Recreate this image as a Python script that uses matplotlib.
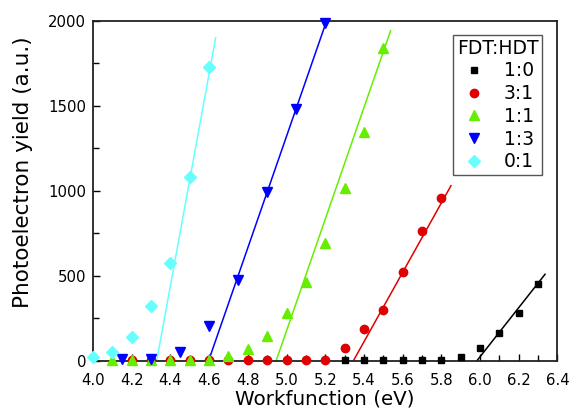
import numpy as np
import matplotlib.pyplot as plt
from matplotlib.ticker import MultipleLocator

# measured yield for each FDT:HDT ratio
x_10 = [5.3, 5.4, 5.5, 5.6, 5.7, 5.8, 5.9, 6.0, 6.1, 6.2, 6.3]
y_10 = [5, 5, 5, 5, 5, 5, 22, 75, 163, 280, 451]

x_31 = [4.2, 4.3, 4.4, 4.5, 4.6, 4.7, 4.8, 4.9, 5.0, 5.1, 5.2, 5.3, 5.4, 5.5, 5.6, 5.7, 5.8]
y_31 = [8, 8, 8, 8, 8, 8, 8, 8, 8, 8, 8, 78, 188, 300, 525, 765, 960]

x_11 = [4.1, 4.2, 4.3, 4.4, 4.5, 4.6, 4.7, 4.8, 4.9, 5.0, 5.1, 5.2, 5.3, 5.4, 5.5]
y_11 = [8, 8, 8, 8, 8, 8, 31, 71, 149, 280, 463, 692, 1019, 1345, 1843]

x_13 = [4.15, 4.3, 4.45, 4.6, 4.75, 4.9, 5.05, 5.2]
y_13 = [10, 10, 55, 206, 476, 996, 1482, 1986]

x_01 = [4.0, 4.1, 4.2, 4.3, 4.4, 4.5, 4.6]
y_01 = [25, 55, 139, 325, 575, 1084, 1731]

labels = ["1:0", "3:1", "1:1", "1:3", "0:1"]
# linear fits: threshold (eV), slope (a.u./eV), end of drawn line (eV)
thresholds = [5.983, 5.345, 4.946, 4.597, 4.329]
slopes = [1445, 2042, 3282, 3279, 6236]
fit_ends = [6.336, 5.85, 5.538, 5.21, 4.634]

colors = ["black", "#e00000", "#66ee00", "#0000ff", "#66ffff"]
markers = ["s", "o", "^", "v", "D"]
msizes = [5, 6, 7, 7, 6]

fig = plt.figure(figsize=(5.73, 4.11), dpi=100)
ax = fig.add_axes([0.1623, 0.1217, 0.8105, 0.8272])

xs = [x_10, x_31, x_11, x_13, x_01]
ys = [y_10, y_31, y_11, y_13, y_01]

for i in range(5):
    x0, k, x1 = thresholds[i], slopes[i], fit_ends[i]
    xl = np.array([x0, x1])
    ax.plot(xl, k * (xl - x0), color=colors[i], lw=1.1, zorder=2)

for i in range(5):
    ax.plot(xs[i], ys[i], linestyle="none", marker=markers[i], ms=msizes[i],
            color=colors[i], mec=colors[i], label=labels[i], zorder=3 + i,
            clip_on=False)

ax.set_xlim(4.0, 6.4)
ax.set_ylim(0, 2000)
ax.xaxis.set_major_locator(MultipleLocator(0.2))
ax.xaxis.set_minor_locator(MultipleLocator(0.1))
ax.yaxis.set_major_locator(MultipleLocator(500))
ax.yaxis.set_minor_locator(MultipleLocator(250))
ax.tick_params(which="both", direction="in", top=False, right=False,
               labelsize=10.7, width=1.0)
ax.tick_params(which="major", length=5)
ax.tick_params(which="minor", length=4)
ax.tick_params(axis="x", pad=9)
ax.tick_params(axis="y", pad=5)
for s in ax.spines.values():
    s.set_linewidth(1.3)
    s.set_color("#222222")

ax.set_xlabel("Workfunction (eV)", fontsize=14.3, labelpad=1)
fig.text(23 / 573, 0.5815, "Photoelectron yield (a.u.)", rotation=90,
         ha="center", va="center", fontsize=15.5)

leg = ax.legend(title="FDT:HDT", loc="upper right", bbox_to_anchor=(0.967, 0.959),
                borderaxespad=0, fontsize=13.5, title_fontsize=13.5,
                handlelength=1.4, handletextpad=0.9, borderpad=0.2,
                labelspacing=0.2, fancybox=False, framealpha=1,
                edgecolor="#555555")
leg.get_frame().set_linewidth(1.0)

fig.savefig("out.png", dpi=100)
